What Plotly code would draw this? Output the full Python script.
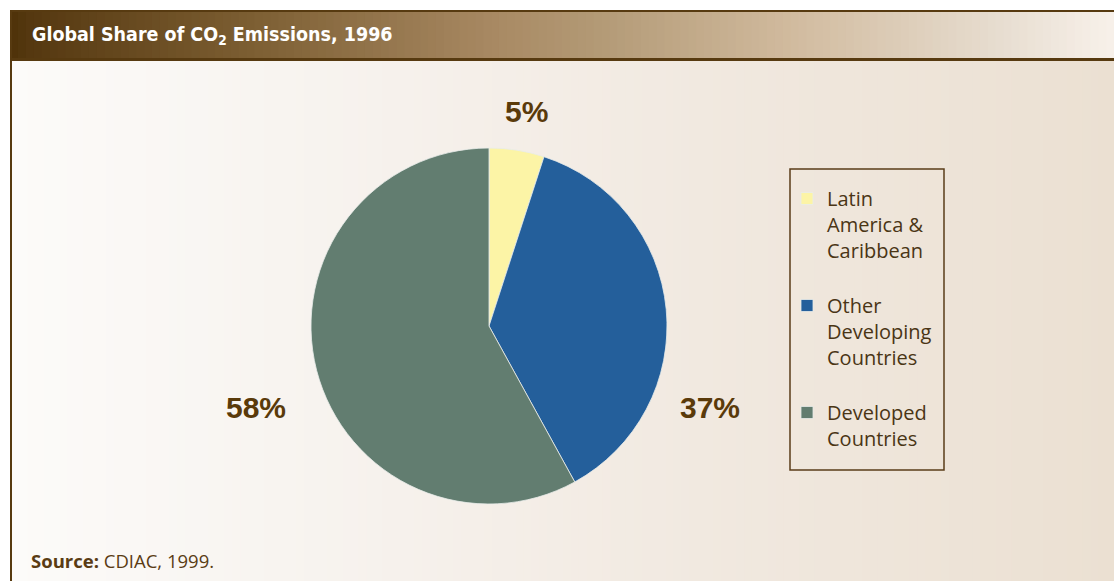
import plotly.graph_objects as go

# ---- data ----
categories = ["Latin<br>America &amp;<br>Caribbean<br> ",
              "Other<br>Developing<br>Countries<br> ",
              "Developed<br>Countries"]
shares = [5, 37, 58]
slice_colors = ["#fcf4a6", "#245f9b", "#627d70"]

W, H = 1114, 581
def px(x):
    return x / W
def py(y):
    return 1 - y / H

def hex2rgb(h):
    h = h.lstrip("#")
    return [int(h[i:i + 2], 16) for i in (0, 2, 4)]

def interp(stops, x):
    for (x0, c0), (x1, c1) in zip(stops, stops[1:]):
        if x0 <= x <= x1:
            t = (x - x0) / (x1 - x0) if x1 > x0 else 0
            a, b = hex2rgb(c0), hex2rgb(c1)
            return "rgb(%d,%d,%d)" % tuple(round(a[i] + (b[i] - a[i]) * t) for i in range(3))
    return stops[-1][1]

shapes = []
# body gradient background
body_stops = [(12, "#fcfbf9"), (400, "#f6f1ec"), (700, "#f1e9e0"), (1114, "#ebe0d2")]
N = 140
for i in range(N):
    x0 = 12 + (W - 12) * i / N
    x1 = 12 + (W - 12) * (i + 1) / N + 1
    shapes.append(dict(type="rect", xref="paper", yref="paper", x0=px(x0), x1=px(x1),
                       y0=py(H), y1=py(61), fillcolor=interp(body_stops, (x0 + x1) / 2),
                       line=dict(width=0), layer="below"))
# header gradient
head_stops = [(10, "#4e3208"), (30, "#553810"), (250, "#7c5e32"), (500, "#a98a64"),
              (600, "#b39a76"), (800, "#d2bca0"), (1000, "#e7ddd0"), (1114, "#f8f1ea")]
for i in range(N):
    x0 = 10 + (W - 10) * i / N
    x1 = 10 + (W - 10) * (i + 1) / N + 1
    shapes.append(dict(type="rect", xref="paper", yref="paper", x0=px(x0), x1=px(x1),
                       y0=py(58), y1=py(12), fillcolor=interp(head_stops, (x0 + x1) / 2),
                       line=dict(width=0), layer="below"))
border = "#573a10"
shapes += [
    dict(type="rect", xref="paper", yref="paper", x0=px(10), x1=px(W), y0=py(12), y1=py(10),
         fillcolor=border, line=dict(width=0), layer="below"),
    dict(type="rect", xref="paper", yref="paper", x0=px(10), x1=px(W), y0=py(61), y1=py(58),
         fillcolor=border, line=dict(width=0), layer="below"),
    dict(type="rect", xref="paper", yref="paper", x0=px(10), x1=px(12), y0=py(H), y1=py(10),
         fillcolor=border, line=dict(width=0), layer="below"),
    # legend frame
    dict(type="rect", xref="paper", yref="paper", x0=px(790), x1=px(944), y0=py(470), y1=py(169),
         fillcolor="rgba(0,0,0,0)", line=dict(width=1.5, color="#5a3c18"), layer="below"),
]

fig = go.Figure()
cx, cy, r = 489, 326, 178
fig.add_trace(go.Pie(
    labels=categories, values=shares, sort=False, direction="clockwise", rotation=0,
    marker=dict(colors=slice_colors, line=dict(color="#e9ecea", width=0.8)),
    textinfo="none", hoverinfo="label+percent",
    domain=dict(x=[px(cx - r), px(cx + r)], y=[py(cy + r), py(cy - r)]),
))

label_pos = [(526, 112), (710, 407), (256, 407)]
annotations = []
for v, (lx, ly) in zip(shares, label_pos):
    annotations.append(dict(text=f"{v}%", x=px(lx), y=py(ly), xref="paper", yref="paper",
                            showarrow=False, xanchor="center", yanchor="middle",
                            font=dict(family="Liberation Sans", size=30, color="#5a3a0a",
                                      weight="bold")))
annotations.append(dict(text="Global Share of CO<sub>2</sub> Emissions, 1996",
                        x=px(30), y=py(36), xref="paper", yref="paper", showarrow=False,
                        xanchor="left", yanchor="middle",
                        font=dict(family="'DejaVu Sans Condensed', 'Roboto Condensed', Roboto",
                                  size=19.5, color="white", weight="bold")))
annotations.append(dict(text="<b>Source:</b> CDIAC, 1999.",
                        x=px(29), y=py(560), xref="paper", yref="paper", showarrow=False,
                        xanchor="left", yanchor="middle",
                        font=dict(family="Open Sans", size=18.5, color="#5a3c14")))

fig.update_layout(
    width=W, height=H, margin=dict(l=0, r=0, t=0, b=0),
    paper_bgcolor="white", plot_bgcolor="white",
    shapes=shapes, annotations=annotations,
    showlegend=True,
    legend=dict(x=px(787), y=py(179), xanchor="left", yanchor="top",
                bgcolor="rgba(0,0,0,0)", borderwidth=0, valign="top",
                font=dict(family="Open Sans", size=20, color="#4a3515"),
                itemclick=False, itemdoubleclick=False),
)

fig.write_html("out.html")
